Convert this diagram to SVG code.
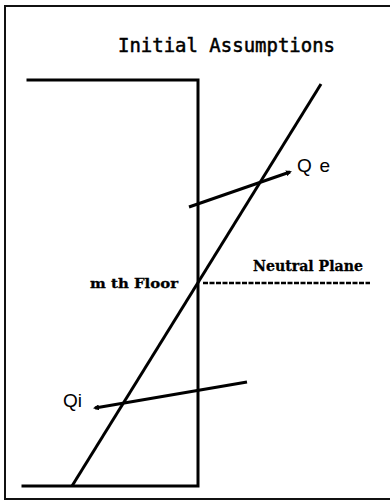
<svg xmlns="http://www.w3.org/2000/svg" width="390" height="501" viewBox="0 0 390 501">
<style>
.frame{fill:none;stroke:#111;stroke-width:2}
.wall{fill:none;stroke:#000;stroke-width:3;stroke-linecap:square}
.ln{fill:none;stroke:#000;stroke-width:3}
.dash{fill:none;stroke:#000;stroke-width:2.5;stroke-dasharray:5 1.5}
.title{font-family:"DejaVu Sans Mono","Liberation Mono",monospace;font-size:19px;fill:#000;stroke:#000;stroke-width:0.5}
.slab{font-family:"DejaVu Serif","Liberation Serif",serif;font-weight:bold;fill:#000;stroke:#000;stroke-width:0.3}
.q{font-family:"Liberation Sans",Arial,sans-serif;font-size:19px;fill:#000}
</style>
<defs>
<marker id="ah" viewBox="0 0 6 6" refX="4" refY="3" markerWidth="2" markerHeight="2" orient="auto" markerUnits="strokeWidth">
<path d="M0,0 L6,3 L0,6 z" fill="#000"/>
</marker>
</defs>
<rect width="390" height="501" fill="#fff"/>
<g id="frame">
<polyline class="frame" points="390,6 5,6 5,499 390,499"/>
</g>
<g id="title">
<text class="title" x="118" y="52" textLength="217" lengthAdjust="spacingAndGlyphs">Initial Assumptions</text>
</g>
<g id="building">
<polyline class="wall" points="28,80 198,80 198,486 23,486"/>
</g>
<g id="connectors">
<line class="ln" x1="72" y1="486" x2="321" y2="84"/>
<line class="ln" x1="189" y1="207" x2="290" y2="172" marker-end="url(#ah)"/>
<line class="ln" x1="247" y1="382" x2="95" y2="408" marker-end="url(#ah)"/>
<line class="dash" x1="203" y1="283" x2="370" y2="283"/>
</g>
<g id="qe"><text class="q" x="297" y="172" textLength="33" lengthAdjust="spacing">Qe</text></g>
<g id="qi"><text class="q" x="63" y="407">Qi</text></g>
<g id="neutral"><text class="slab" x="253" y="271" font-size="14" textLength="110" lengthAdjust="spacingAndGlyphs">Neutral Plane</text></g>
<g id="floor"><text class="slab" x="90" y="288" font-size="13" textLength="88" lengthAdjust="spacingAndGlyphs">m th Floor</text></g>
</svg>
